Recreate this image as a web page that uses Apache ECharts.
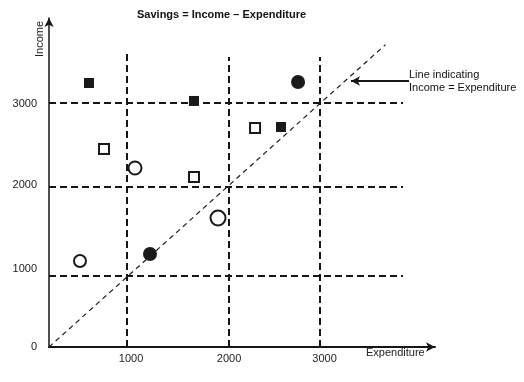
<!DOCTYPE html>
<html>
<head>
<meta charset="utf-8">
<script src="https://cdn.jsdelivr.net/npm/echarts@6/dist/echarts.min.js"></script>
<style>
html,body{margin:0;padding:0;background:#fff;}
#chart{width:524px;height:382px;}
</style>
</head>
<body>
<div id="chart"></div>
<script>
// ---- data (diagram units; the diagonal is Income = Expenditure) ----
const titleText = 'Savings = Income \u2013 Expenditure';
const xName = 'Expenditure';
const yName = 'Income';
const xMax = 4273;
const yMax = 4053;

// guide (dashed) lines as drawn, and their tick labels
const xGuideValues = [863, 1993, 3000];
const xGuideTops = [3622, 3573, 3573];
const yGuideValues = [881, 1971, 3006];
const yGuideEnd = 3919;
const xTickPos = [908, 1993, 3050];
const xTickLabels = ['1000', '2000', '3000'];
const yTickPos = [0, 961, 1996, 2994];
const yTickLabels = ['0', '1000', '2000', '3000'];

// equality line end
const diagonalEnd = 3725;

// markers
const filledSquares = [[443, 3252], [1605, 3031], [2568, 2710]];
const openSquares = [[609, 2439], [1605, 2094], [2281, 2698]];
const filledCircles = [[2757, 3265], [1118, 1146]];
const openCircles = [[343, 1060], [952, 2205], [1871, 1589]];
const openCircleSizes = [12, 13, 15];
const filledCircleSizes = [14, 14];

// annotation arrow
const arrowFrom = [3985, 3277];
const arrowTo = [3343, 3277];
const annotationText = 'Line indicating\nIncome = Expenditure';

const ink = '#161616';
const font = 'Liberation Sans, Arial, sans-serif';

const chart = echarts.init(document.getElementById('chart'), null, {renderer: 'canvas'});

const guideLines = [];
xGuideValues.forEach((x, i) => guideLines.push([{coord: [x, 0]}, {coord: [x, xGuideTops[i]]}]));
yGuideValues.forEach(y => guideLines.push([{coord: [0, y]}, {coord: [yGuideEnd, y]}]));

const option = {
  animation: false,
  backgroundColor: '#fff',
  title: {
    text: titleText,
    left: 132, top: 4,
    textStyle: {fontFamily: font, fontSize: 11, fontWeight: 'bold', color: '#111'}
  },
  grid: {left: 49, right: 89, top: 18, bottom: 35},
  xAxis: {
    type: 'value', min: 0, max: xMax,
    axisLine: {show: true, onZero: false, lineStyle: {color: ink, width: 2},
      symbol: ['none', 'arrow'], symbolSize: [7, 9]},
    axisTick: {show: false},
    splitLine: {show: false},
    axisLabel: {
      customValues: xTickPos,
      formatter: v => xTickLabels[xTickPos.indexOf(v)] || '',
      margin: 6, color: '#222', fontFamily: font, fontSize: 11,
      showMinLabel: true, showMaxLabel: true
    }
  },
  yAxis: {
    type: 'value', min: 0, max: yMax,
    axisLine: {show: true, onZero: false, lineStyle: {color: ink, width: 1.5},
      symbol: ['none', 'arrow'], symbolSize: [7, 9]},
    axisTick: {show: false},
    splitLine: {show: false},
    axisLabel: {
      customValues: yTickPos,
      formatter: v => yTickLabels[yTickPos.indexOf(v)] || '',
      margin: 12, color: '#222', fontFamily: font, fontSize: 11,
      showMinLabel: true, showMaxLabel: true
    }
  },
  series: [
    {
      name: 'equality', type: 'line', silent: true,
      data: [[0, 0], [diagonalEnd, diagonalEnd]],
      symbol: 'none',
      lineStyle: {color: '#1e1e1e', width: 1.2, type: [5, 4]},
      markLine: {
        silent: true, symbol: ['none', 'none'],
        label: {show: false},
        lineStyle: {color: ink, width: 2, type: [7, 4]},
        emphasis: {disabled: true},
        data: guideLines
      },
      z: 1
    },
    {
      name: 'arrow', type: 'line', data: [], silent: true,
      markLine: {
        silent: true, symbol: ['none', 'arrow'], symbolSize: [7, 9],
        label: {show: false},
        lineStyle: {color: ink, width: 2, type: 'solid'},
        emphasis: {disabled: true},
        data: [[{coord: arrowFrom}, {coord: arrowTo}]]
      }
    },
    {
      name: 'filledSquares', type: 'scatter', symbol: 'rect', symbolSize: 10,
      itemStyle: {color: '#1a1a1a', opacity: 1}, data: filledSquares, z: 5
    },
    {
      name: 'openSquares', type: 'scatter', symbol: 'rect', symbolSize: 10,
      itemStyle: {color: '#fff', borderColor: '#1a1a1a', borderWidth: 2, opacity: 1}, data: openSquares, z: 5
    },
    {
      name: 'filledCircles', type: 'scatter', symbol: 'circle',
      symbolSize: (v, p) => filledCircleSizes[p.dataIndex],
      itemStyle: {color: '#1a1a1a', opacity: 1}, data: filledCircles, z: 5
    },
    {
      name: 'openCircles', type: 'scatter', symbol: 'circle',
      symbolSize: (v, p) => openCircleSizes[p.dataIndex],
      itemStyle: {color: '#fff', borderColor: '#1a1a1a', borderWidth: 2, opacity: 1}, data: openCircles, z: 5
    }
  ],
  graphic: [
    {
      type: 'text', x: 45, y: 57, rotation: Math.PI / 2,
      style: {text: yName, fontFamily: font, fontSize: 11, fill: '#222', textAlign: 'left', textVerticalAlign: 'bottom'}
    },
    {
      type: 'text', left: 366, top: 347,
      style: {text: xName, fontFamily: font, fontSize: 11, fill: '#222'}
    },
    {
      type: 'text', left: 409, top: 68,
      style: {text: annotationText, fontFamily: font, fontSize: 11, fill: '#111', lineHeight: 13.5}
    }
  ]
};
chart.setOption(option);
</script>
</body>
</html>
